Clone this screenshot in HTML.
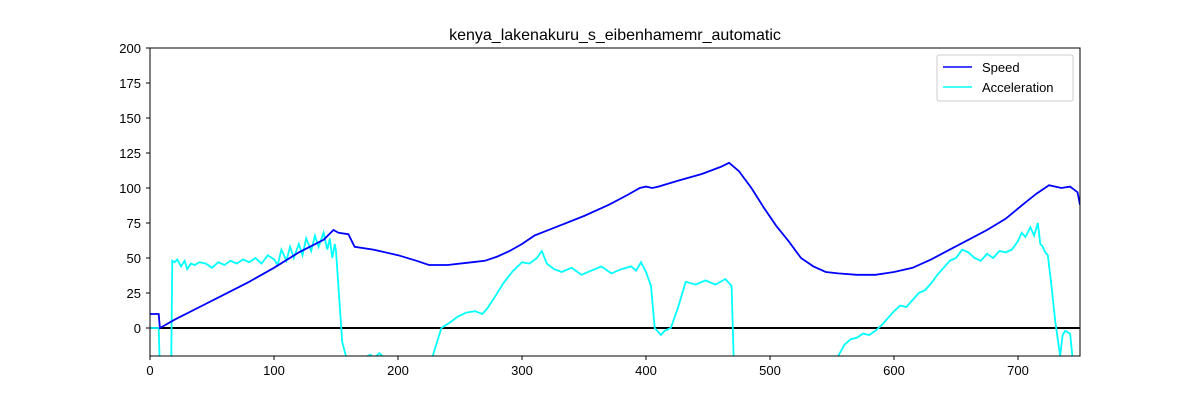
<!DOCTYPE html>
<html><head><meta charset="utf-8"><style>
body{margin:0;background:#fff;}
svg{display:block;font-family:"Liberation Sans","DejaVu Sans",sans-serif;}
</style></head><body>
<svg id="chart" width="1200" height="400">
<rect width="1200" height="400" fill="#fff"/>
<defs><clipPath id="clip"><rect x="150" y="48" width="930" height="308"/></clipPath></defs>
<text x="615" y="40" text-anchor="middle" font-size="16">kenya_lakenakuru_s_eibenhamemr_automatic</text>
<g id="ticks"></g>
<g id="series" clip-path="url(#clip)"></g>
<rect x="150" y="48" width="930" height="308" fill="none" stroke="#000" stroke-width="1"/>
<g>
<rect x="937" y="55" width="136" height="46" fill="#fff" stroke="#ccc" rx="2"/>
<line x1="943" y1="67" x2="972" y2="67" stroke="#0000ff" stroke-width="1.5"/>
<text x="982" y="72" font-size="13">Speed</text>
<line x1="943" y1="87" x2="972" y2="87" stroke="#00ffff" stroke-width="1.5"/>
<text x="982" y="92" font-size="13">Acceleration</text>
</g>
</svg>
<script>
const xTicks=[0,100,200,300,400,500,600,700];
const yTicks=[0,25,50,75,100,125,150,175,200];
const speedX=[0,7,8,10,20,40,60,80,100,120,140,148,152,160,165,180,200,215,225,240,260,270,280,290,300,310,330,350,370,385,395,400,405,410,425,445,460,467,475,485,495,505,515,525,535,545,555,570,585,600,615,630,645,660,675,690,705,715,725,735,742,748,750];
const speedY=[10,10,0,1,6,15,24,33,43,54,63,70,68,67,58,56,52,48,45,45,47,48,51,55,60,66,73,80,88,95,100,101,100,101,105,110,115,118,112,100,86,73,62,50,44,40,39,38,38,40,43,49,56,63,70,78,89,96,102,100,101,97,88];
const accX=[0,7,8,17,18,20,22,25,28,30,
33,36,40,45,50,55,60,65,70,75,
80,85,90,95,100,103,106,110,113,116,
120,123,126,130,133,136,140,143,145,147,
149,150,155,158,160,170,178,180,185,190,
200,215,225,228,235,242,248,255,262,268,
272,278,285,292,300,306,312,316,320,326,
332,340,348,356,364,372,380,388,392,396,
400,404,407,409,412,415,420,426,432,440,
448,456,464,467,469,471,550,555,560,565,
570,575,580,585,590,595,600,605,610,615,
620,625,630,635,640,645,650,655,660,665,
670,675,680,685,690,695,700,703,706,710,
713,716,718,720,722,724,727,730,734,736,
738,740,742,745];
const accY=[0,0,-30,-30,48,47,49,44,48,42,
46,45,47,46,43,47,45,48,46,49,
47,50,46,52,49,45,56,48,58,50,
60,52,64,55,66,58,68,56,64,50,
60,55,-10,-20,-22,-22,-19,-22,-18,-22,
-30,-30,-30,-20,0,4,8,11,12,10,
14,22,32,40,47,46,50,55,46,42,
40,43,38,41,44,39,42,44,41,47,
40,30,0,-2,-5,-2,0,15,33,31,
34,31,35,32,30,-30,-30,-20,-12,-8,
-7,-4,-5,-2,2,7,12,16,15,20,
25,27,32,38,43,48,50,56,54,50,
48,53,50,55,54,56,62,68,65,72,
66,75,60,58,54,52,30,5,-20,-5,
-2,-3,-4,-30];
const X=v=>150+v*1.24;
const Y=v=>328-v*1.4;
const NS="http://www.w3.org/2000/svg";
const tg=document.getElementById('ticks');
xTicks.forEach(t=>{
  const l=document.createElementNS(NS,'line');
  l.setAttribute('x1',X(t));l.setAttribute('x2',X(t));l.setAttribute('y1',356);l.setAttribute('y2',360);l.setAttribute('stroke','#000');
  
  
  tg.appendChild(l);
  const s=document.createElementNS(NS,'text');
  s.setAttribute('x',X(t));s.setAttribute('y',375);s.setAttribute('text-anchor','middle');s.setAttribute('font-size','13');s.textContent=t;
  
  
  tg.appendChild(s);
});
yTicks.forEach(t=>{
  const l=document.createElementNS(NS,'line');
  l.setAttribute('x1',146);l.setAttribute('x2',150);l.setAttribute('y1',Y(t));l.setAttribute('y2',Y(t));l.setAttribute('stroke','#000');
  
  
  tg.appendChild(l);
  const s=document.createElementNS(NS,'text');
  s.setAttribute('x',141);s.setAttribute('y',Y(t)+5);s.setAttribute('text-anchor','end');s.setAttribute('font-size','13');s.textContent=t;
  
  
  tg.appendChild(s);
});
const sg=document.getElementById('series');
const zl=document.createElementNS(NS,'line');
zl.setAttribute('x1',150);zl.setAttribute('x2',1080);zl.setAttribute('y1',Y(0));zl.setAttribute('y2',Y(0));zl.setAttribute('stroke','#000');zl.setAttribute('stroke-width','2');


sg.appendChild(zl);
function path(xs,ys,color,name){
  const n=Math.min(xs.length,ys.length);
  let d='';
  for(let i=0;i<n;i++) d+=(i?'L':'M')+X(xs[i]).toFixed(1)+' '+Y(ys[i]).toFixed(1);
  const p=document.createElementNS(NS,'path');
  p.setAttribute('d',d);
  p.setAttribute('fill','none');p.setAttribute('stroke',color);p.setAttribute('stroke-width','1.8');
  
  
  sg.appendChild(p);
}
path(accX,accY,'#00ffff','acceleration-line');
path(speedX,speedY,'#0000ff','speed-line');
</script>
</body></html>
